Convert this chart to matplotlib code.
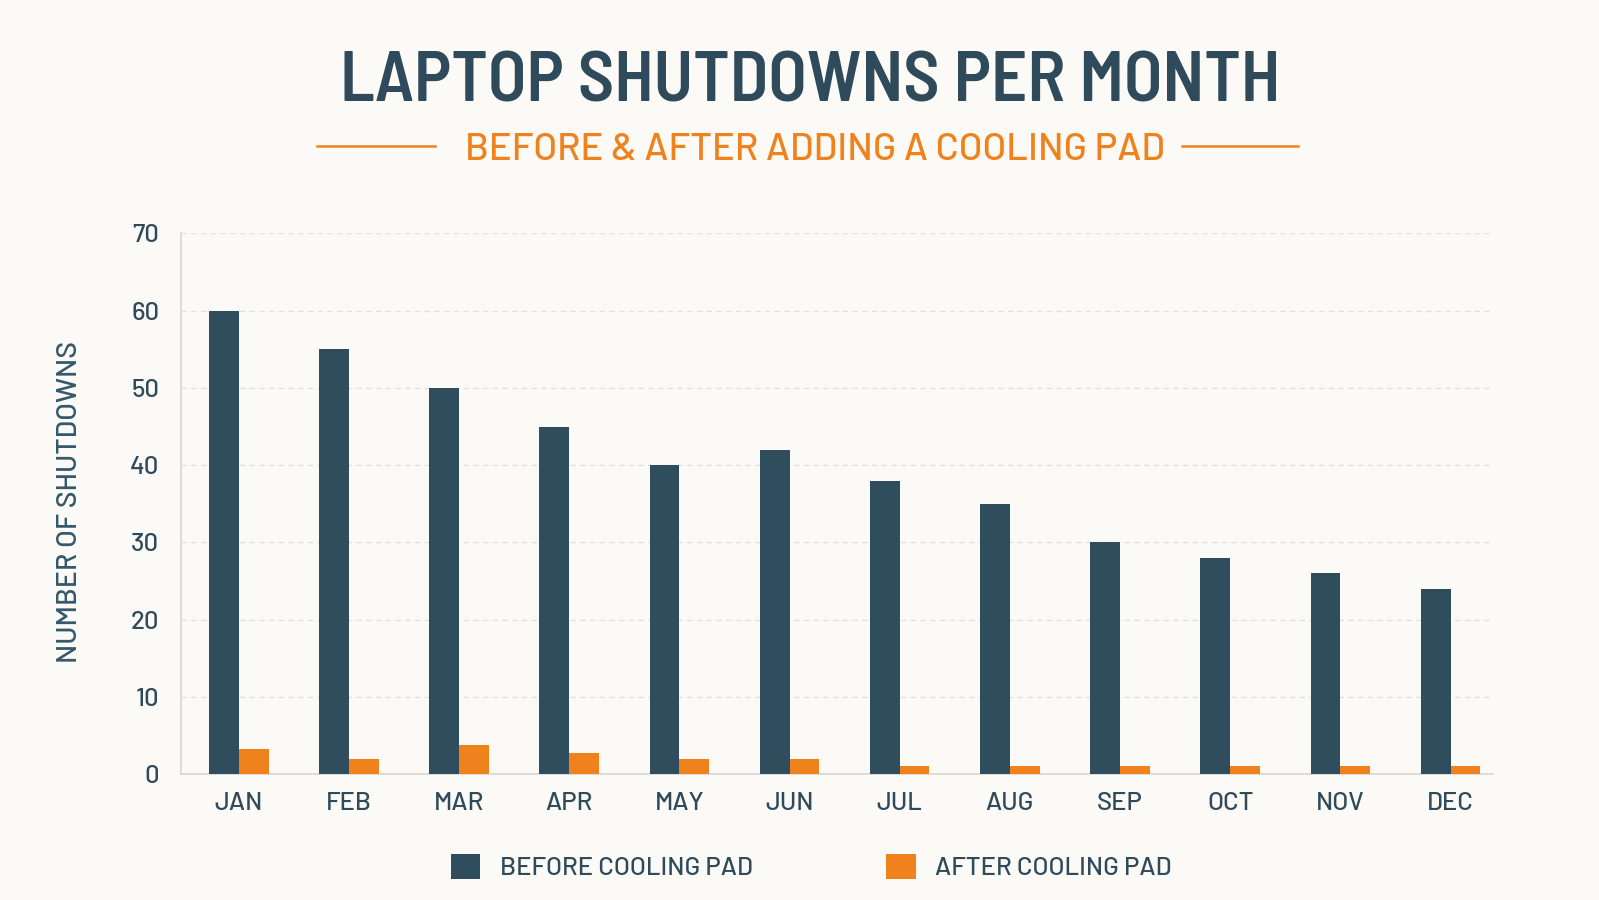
import matplotlib
matplotlib.use("Agg")
import matplotlib.pyplot as plt
from matplotlib.patches import Patch
from matplotlib.lines import Line2D
import numpy as np

# data
months = ["JAN", "FEB", "MAR", "APR", "MAY", "JUN", "JUL", "AUG", "SEP", "OCT", "NOV", "DEC"]
before_pad = [60, 55, 50, 45, 40, 42, 38, 35, 30, 28, 26, 24]
after_pad = [3.2, 2, 3.8, 2.7, 2, 2, 1, 1, 1, 1, 1, 1]
y_ticks = [0, 10, 20, 30, 40, 50, 60, 70]

dark = "#2f4d5c"
orange = "#f0821e"
bg = "#fbfaf6"
text_col = "#2f4a5a"

plt.rcParams['font.family'] = ['Barlow', 'DejaVu Sans']
plt.rcParams['font.weight'] = 'medium'
title_font = ['Barlow Semi Condensed', 'DejaVu Sans']

fig = plt.figure(figsize=(15.99, 9.0), dpi=100, facecolor=bg)
ax = fig.add_axes([0.1135, 0.14, 0.8205, 0.6006])
ax.set_facecolor(bg)

x = np.arange(len(months))
w = 0.27
ax.bar(x - w/2, before_pad, width=w, color=dark, zorder=3)
ax.bar(x + w/2, after_pad, width=w, color=orange, zorder=3)

ax.set_xlim(-0.52, 11.39)
ax.set_ylim(0, 70)
ax.set_yticks(y_ticks)
ax.set_xticks(x)
ax.set_xticklabels(months)
ax.tick_params(axis='both', length=0, labelsize=18.5, labelcolor=text_col)
ax.tick_params(axis='y', pad=16)
ax.tick_params(axis='x', pad=13)
ax.grid(axis='y', color="#e2e2de", linestyle=(0, (4, 3)), linewidth=1, zorder=0)

for s in ["top", "right"]:
    ax.spines[s].set_visible(False)
for s in ["left", "bottom"]:
    ax.spines[s].set_color("#d6d6d2")
    ax.spines[s].set_linewidth(1.2)

fig.text(70/1599, 1 - 502/900, "NUMBER OF SHUTDOWNS", rotation=90, ha='center', va='center',
         fontsize=20.5, fontweight='medium', color="#34586a")

# titles
fig.text(810/1599, 1 - 83/900, "LAPTOP SHUTDOWNS PER MONTH", ha='center', va='center',
         fontsize=51, fontweight='semibold', color=text_col, family=title_font)
fig.text(815/1599, 1 - 150/900, "BEFORE & AFTER ADDING A COOLING PAD", ha='center', va='center',
         fontsize=27.5, fontweight='medium', color=orange)
for x0, x1 in [(317, 435), (1182, 1298)]:
    fig.add_artist(Line2D([x0/1599, x1/1599], [1 - 146/900, 1 - 146/900],
                          transform=fig.transFigure, color=orange, linewidth=1.8))

handles = [Patch(facecolor=dark, label="BEFORE COOLING PAD"),
           Patch(facecolor=orange, label="AFTER COOLING PAD")]
leg = fig.legend(handles=handles, loc='center', bbox_to_anchor=(811/1599, 1 - 867/900),
                 ncol=2, frameon=False, fontsize=18.5, handlelength=1.15, handleheight=1.1,
                 handletextpad=0.75, columnspacing=5.2)
for t in leg.get_texts():
    t.set_color(text_col)

fig.savefig("out.png", dpi=100, facecolor=bg)
